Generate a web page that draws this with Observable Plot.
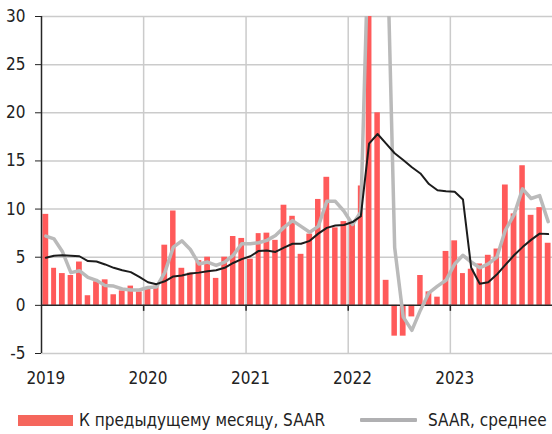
<!DOCTYPE html>
<html>
<head>
<meta charset="utf-8">
<script src="https://cdn.jsdelivr.net/npm/d3@7"></script>
<script src="https://cdn.jsdelivr.net/npm/@observablehq/plot@0.6"></script>
<style>
  html, body { margin: 0; padding: 0; background: #fff; }
  #wrap { position: relative; width: 552px; height: 434px; font-family: "Liberation Sans Narrow", "Arial Narrow", "DejaVu Sans Condensed", Roboto, sans-serif; color: #222; }
  #chart svg { display: block; }
  .leg { position: absolute; top: 409px; height: 22px; display: flex; align-items: center; font-size: 17px; white-space: nowrap; }
  .sw-bar { width: 55px; height: 11px; background: #f5665c; margin-right: 6px; }
  .sw-line { width: 57px; height: 3.5px; background: #b0b0b2; margin-right: 11px; border-radius: 1px; }
</style>
</head>
<body>
<div id="wrap">
  <div id="chart"></div>
  <div class="leg" style="left:18px"><div class="sw-bar"></div><span>К предыдущему месяцу, SAAR</span></div>
  <div class="leg" style="left:360px"><div class="sw-line"></div><span>SAAR, среднее</span></div>
</div>
<script>
// Monthly data, Jan 2019 – Dec 2023
const startYear = 2019;
const yearLabels = ["2019", "2020", "2021", "2022", "2023"];
const yTicks = [-5, 0, 5, 10, 15, 20, 25, 30];

// К предыдущему месяцу, SAAR (bars)
const monthlySAAR = [
  9.45, 3.85, 3.3, 3.1, 4.5, 1.0, 2.45, 2.65, 1.1, 1.5, 2.0, 1.4,
  1.7, 2.0, 6.25, 9.8, 3.85, 3.35, 4.65, 5.0, 2.8, 5.0, 7.15, 6.95,
  4.8, 7.45, 7.5, 6.75, 10.4, 9.25, 5.3, 7.4, 11.0, 13.3, 8.05, 8.7,
  8.4, 12.4, 97, 20, 2.6, -3.2, -3.2, -1.2, 3.1, 1.4, 0.85, 5.6,
  6.7, 3.3, 3.75, 4.3, 5.2, 5.85, 12.5, 9.5, 14.5, 9.35, 10.15, 6.45
];
// SAAR, среднее (grey line)
const saarAverage = [
  7.2, 6.9, 5.6, 3.4, 3.6, 2.9, 2.6, 2.05, 2.0, 1.7, 1.6, 1.6,
  1.85, 1.9, 3.4, 6.05, 6.7, 5.8, 4.3, 4.5, 4.15, 4.5, 5.2, 6.4,
  6.4, 6.5, 6.75, 7.25, 8.1, 8.8, 8.2, 7.6, 8.2, 10.8, 10.8, 9.8,
  8.4, 9.7, 40, 44, 42, 6.0, -1.2, -2.6, -0.5, 1.3, 2.0, 2.6,
  4.3, 5.2, 4.5, 3.9, 4.3, 5.0, 7.8, 9.4, 12.1, 11.1, 11.4, 8.7
];
// black line
const longAverage = [
  4.95, 5.15, 5.2, 5.15, 5.1, 4.6, 4.55, 4.25, 3.9, 3.65, 3.45, 2.95,
  2.4, 2.2, 2.5, 3.0, 3.1, 3.3, 3.4, 3.55, 3.65, 3.9, 4.4, 4.8,
  5.1, 5.65, 5.7, 5.55, 6.0, 6.4, 6.4, 6.7, 7.45, 8.05, 8.3, 8.35,
  8.65, 9.25, 16.8, 17.8, 16.8, 15.8, 15.1, 14.35, 13.7, 12.6, 11.95, 11.85,
  11.8, 11.0, 3.9, 2.25, 2.4, 3.2, 4.2, 5.2, 6.05, 6.8, 7.45, 7.4
];

const monthStart = i => new Date(Date.UTC(startYear, i, 1));
const monthEnd = i => new Date(Date.UTC(startYear, i + 1, 1));
const monthMid = i => new Date((+monthStart(i) + +monthEnd(i)) / 2);

const rows = monthlySAAR.map((v, i) => ({
  x1: monthStart(i), x2: monthEnd(i), xm: monthMid(i),
  bar: v, avg: saarAverage[i], avg12: longAverage[i]
}));

const yearStarts = yearLabels.map(y => new Date(Date.UTC(+y, 0, 1)));
const yearMids = yearLabels.map((y, k) => monthMid(k * 12));
const domainEnd = new Date(Date.UTC(startYear + yearLabels.length, 0, 1));

const grid = "#cbcbcb";
const dark = "#262626";

const chart = Plot.plot({
  width: 552,
  height: 400,
  marginLeft: 41,
  marginRight: 0,
  marginTop: 16,
  marginBottom: 47,
  style: { fontFamily: "inherit", fontSize: "17px", color: "#222", background: "#fff" },
  x: {
    type: "utc",
    domain: [yearStarts[0], domainEnd],
    ticks: yearMids,
    tickFormat: (d) => String(d.getUTCFullYear()),
    tickSize: 0,
    tickPadding: 18,
    label: null
  },
  y: {
    domain: [yTicks[0], yTicks[yTicks.length - 1]],
    ticks: yTicks,
    tickSize: 6,
    tickPadding: 10,
    tickFormat: d => String(d),
    label: null
  },
  marks: [
    Plot.ruleY(yTicks.filter(d => d !== 0), { stroke: grid, strokeWidth: 1.5 }),
    Plot.ruleX(yearStarts.slice(1), { stroke: grid, strokeWidth: 1.5 }),
    Plot.rectY(rows, { x1: "x1", x2: "x2", y: "bar", fill: "#ff5a5a", insetLeft: 1.45, insetRight: 1.45, clip: true }),
    Plot.ruleY([0], { stroke: dark, strokeWidth: 1.5 }),
    Plot.ruleX(yearStarts.slice(1), { y1: 0, y2: 0, insetBottom: -6, stroke: dark, strokeWidth: 1.5 }),
    Plot.ruleX([yearStarts[0]], { stroke: dark, strokeWidth: 1.5 }),
    Plot.line(rows, { x: "xm", y: "avg", stroke: "#bababa", strokeWidth: 3.5, clip: true }),
    Plot.line(rows, { x: "xm", y: "avg12", stroke: "#1c1c1c", strokeWidth: 2, clip: true })
  ]
});
document.getElementById("chart").appendChild(chart);
</script>
</body>
</html>
